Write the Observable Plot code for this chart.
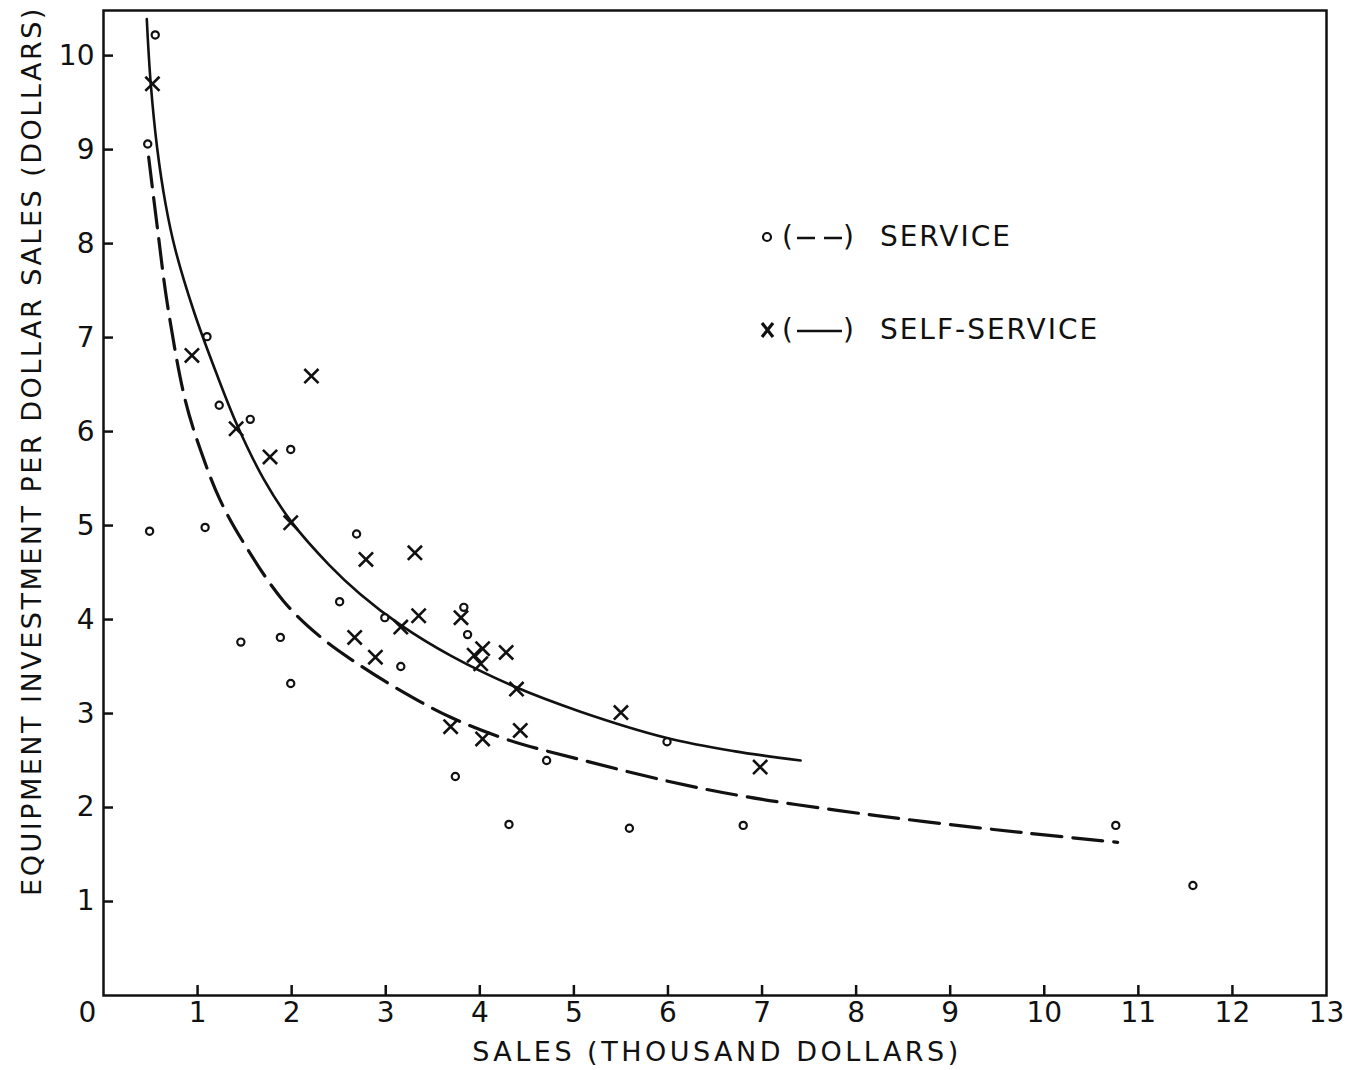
<!DOCTYPE html>
<html>
<head>
<meta charset="utf-8">
<script src="https://cdn.jsdelivr.net/npm/d3@7"></script>
<script src="https://cdn.jsdelivr.net/npm/@observablehq/plot@0.6"></script>
<style>
  html, body { margin: 0; padding: 0; background: #fff; }
  #wrap { position: relative; width: 1351px; height: 1070px; overflow: hidden; font-family: "DejaVu Sans", sans-serif; color: #111; }
  .ttl { position: absolute; font-size: 27px; white-space: nowrap; }
  #xtitle { left: 0; width: 1434px; text-align: center; top: 1036px; letter-spacing: 3.5px; }
  #ytitle { left: 31px; top: 451px; transform: translate(-50%, -50%) rotate(-90deg); letter-spacing: 2.5px; }
  .leg { position: absolute; font-size: 28px; letter-spacing: 2px; white-space: nowrap; display: flex; align-items: center; }
</style>
</head>
<body>
<div id="wrap">
  <div id="chart"></div>
  <div id="xtitle" class="ttl">SALES (THOUSAND DOLLARS)</div>
  <div id="ytitle" class="ttl">EQUIPMENT INVESTMENT PER DOLLAR SALES (DOLLARS)</div>
  <div id="legend"></div>
</div>
<script>
// ---- data ----
const xTickLabels = [0, 1, 2, 3, 4, 5, 6, 7, 8, 9, 10, 11, 12, 13];
const xTickMarks = [1, 2, 3, 4, 5, 6, 7, 8, 9, 10, 11, 12];
const yTickLabels = [1, 2, 3, 4, 5, 6, 7, 8, 9, 10];

const serviceX = [0.55, 0.47, 0.49, 1.10, 1.23, 1.56, 1.08, 1.99, 1.46, 1.88, 1.99, 2.69, 2.51, 2.99, 3.16, 3.83, 3.87, 3.74, 4.31, 4.71, 5.59, 5.99, 6.80, 10.76, 11.58];
const serviceY = [10.22, 9.06, 4.94, 7.01, 6.28, 6.13, 4.98, 5.81, 3.76, 3.81, 3.32, 4.91, 4.19, 4.02, 3.50, 4.13, 3.84, 2.33, 1.82, 2.50, 1.78, 2.70, 1.81, 1.81, 1.17];

const selfX = [0.52, 0.94, 1.41, 1.77, 2.21, 1.99, 2.79, 3.31, 3.35, 3.16, 2.67, 2.89, 3.80, 4.03, 3.94, 4.01, 4.28, 4.39, 3.69, 4.03, 4.43, 5.50, 6.98];
const selfY = [9.70, 6.81, 6.03, 5.73, 6.59, 5.03, 4.64, 4.71, 4.04, 3.92, 3.81, 3.60, 4.02, 3.69, 3.62, 3.53, 3.65, 3.26, 2.86, 2.73, 2.82, 3.01, 2.43];

// fitted curves as drawn in the reference
const selfCurveX = [0.46, 0.50, 0.57, 0.66, 0.76, 0.96, 1.20, 1.42, 1.70, 1.99, 2.40, 2.73, 3.16, 3.70, 4.36, 5.07, 5.99, 6.70, 7.41];
const selfCurveY = [10.39, 9.73, 9.02, 8.42, 7.95, 7.28, 6.62, 6.07, 5.50, 5.05, 4.58, 4.27, 3.94, 3.61, 3.29, 3.02, 2.74, 2.60, 2.50];

const serviceCurveX = [0.48, 0.58, 0.68, 0.87, 1.05, 1.24, 1.50, 1.91, 2.30, 2.73, 3.20, 3.69, 4.30, 5.07, 6.00, 6.80, 7.80, 8.73, 9.80, 10.78];
const serviceCurveY = [8.92, 8.11, 7.35, 6.33, 5.75, 5.27, 4.80, 4.20, 3.82, 3.51, 3.22, 2.96, 2.72, 2.51, 2.28, 2.12, 1.97, 1.85, 1.73, 1.63];

const legendLabels = ["SERVICE", "SELF-SERVICE"];

// ---- build tables ----
const service = serviceX.map((x, i) => ({x, y: serviceY[i]}));
const selfService = selfX.map((x, i) => ({x, y: selfY[i]}));
const selfCurve = selfCurveX.map((x, i) => ({x, y: selfCurveY[i]}));
const serviceCurve = serviceCurveX.map((x, i) => ({x, y: serviceCurveY[i]}));

const INK = "#111";
const FONT = "DejaVu Sans, sans-serif";
const W = 1351, H = 1070, ML = 103, MR = 25, MT = 10, MB = 75;
const TICK = 10;

const chart = Plot.plot({
  width: W,
  height: H,
  marginLeft: ML,
  marginRight: MR,
  marginTop: MT,
  marginBottom: MB,
  x: {domain: [0, 13]},
  y: {domain: [0, 10.48]},
  style: {fontFamily: FONT, fontSize: "28px", color: INK, background: "white", overflow: "visible"},
  marks: [
    // inward tick marks
    Plot.ruleX(xTickMarks, {x: d => d, stroke: INK, strokeWidth: 2.5, insetTop: (H - MT - MB) - TICK}),
    Plot.ruleY(yTickLabels, {y: d => d, stroke: INK, strokeWidth: 2.5, insetRight: (W - ML - MR) - TICK}),
    Plot.frame({stroke: INK, strokeWidth: 2.5}),
    Plot.axisX(xTickLabels.slice(1), {tickSize: 0, tickPadding: 7, label: null, fontSize: 28}),
    Plot.axisX(xTickLabels.slice(0, 1), {tickSize: 0, tickPadding: 7, dx: -16, label: null, fontSize: 28}),
    Plot.axisY(yTickLabels, {tickSize: 0, tickPadding: 9, tickFormat: d => String(d), label: null, fontSize: 28}),
    Plot.line(selfCurve, {x: "x", y: "y", stroke: INK, strokeWidth: 2.6, curve: "catmull-rom"}),
    Plot.line(serviceCurve, {x: "x", y: "y", stroke: INK, strokeWidth: 3.2, strokeDasharray: "30,11", curve: "catmull-rom"}),
    Plot.dot(service, {x: "x", y: "y", r: 3.6, fill: "white", stroke: INK, strokeWidth: 2.2}),
    Plot.dot(selfService, {x: "x", y: "y", symbol: "times", r: 6.5, stroke: INK, strokeWidth: 2.6})
  ]
});
document.getElementById("chart").appendChild(chart);

// ---- legend (inside the plot, upper right) ----
const legend = document.getElementById("legend");
const items = [
  {label: legendLabels[0], top: 220, sym: "circle", dash: "18,9"},
  {label: legendLabels[1], top: 313, sym: "times", dash: null}
];
items.forEach(it => {
  const row = document.createElement("div");
  row.className = "leg";
  row.style.left = "758px";
  row.style.top = it.top + "px";
  const symSvg = it.sym === "circle"
    ? `<svg width="20" height="20" style="margin-right:4px"><circle cx="9" cy="10" r="4" fill="white" stroke="${INK}" stroke-width="2.2"/></svg>`
    : `<svg width="20" height="20" style="margin-right:4px"><path d="M4,3L15,17M15,3L4,17" stroke="${INK}" stroke-width="3.2"/></svg>`;
  const lineSvg = `<svg width="48" height="20"><line x1="2" y1="11" x2="47" y2="11" stroke="${INK}" stroke-width="2.6" ${it.dash ? `stroke-dasharray="${it.dash}"` : ""}/></svg>`;
  row.innerHTML = `${symSvg}<span>(</span>${lineSvg}<span>)</span><span style="margin-left:24px">${it.label}</span>`;
  legend.appendChild(row);
});
</script>
</body>
</html>
